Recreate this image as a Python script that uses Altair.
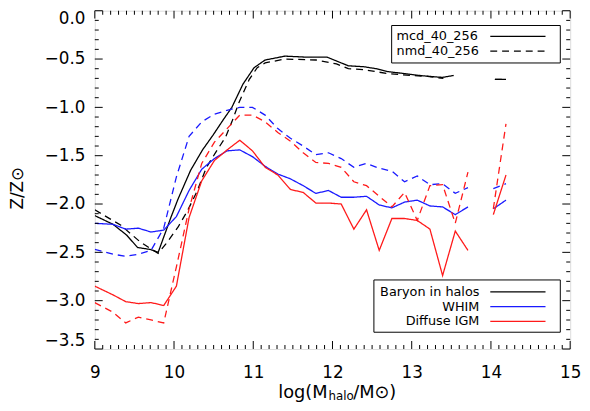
import altair as alt
import pandas as pd
import numpy as np

# ---------------- data ----------------
x_grid = [9.0, 9.23, 9.39, 9.55, 9.71, 9.87, 10.03, 10.19, 10.35, 10.51, 10.67,
          10.83, 10.99, 11.15, 11.31, 11.47, 11.63, 11.79, 11.95, 12.11, 12.27,
          12.43, 12.59, 12.75, 12.91, 13.07, 13.23, 13.39, 13.55, 13.71, 13.87,
          14.03, 14.19]

igm_mcd = [-2.85, -2.94, -3.01, -3.03, -3.02, -3.05, -2.85, -2.14, -1.76, -1.55,
           -1.44, -1.34, -1.45, -1.62, -1.70, -1.85, -1.88, -1.99, -1.99, -2.00,
           -2.26, -2.06, -2.48, -2.15, -2.15, -2.17, -2.26, -2.74, -2.28, -2.48,
           None, -2.11, -1.70]
igm_nmd = [-3.02, -3.12, -3.23, -3.17, -3.20, -3.23, -2.65, -2.05, -1.58, -1.36,
           -1.22, -1.08, -1.08, -1.15, -1.26, -1.35, -1.47, -1.57, -1.58, -1.62,
           -1.77, -1.81, -1.92, -2.03, -1.88, -2.17, -1.81, -1.80, -2.20, -1.67,
           None, -2.05, -1.17]
whim_mcd = [-2.20, -2.21, -2.26, -2.25, -2.29, -2.27, -2.13, -1.86, -1.64, -1.53,
            -1.45, -1.44, -1.51, -1.61, -1.69, -1.74, -1.81, -1.89, -1.86, -1.93,
            -1.93, -1.92, -2.01, -2.04, -1.98, -1.96, -2.02, -2.03, -2.11, -2.03,
            None, -2.05, -1.96]
whim_nmd = [-2.47, -2.52, -2.54, -2.52, -2.48, -2.25, -1.72, -1.30, -1.15, -1.07,
            -1.03, -1.00, -1.00, -1.08, -1.22, -1.32, -1.40, -1.49, -1.47, -1.53,
            -1.62, -1.58, -1.63, -1.66, -1.77, -1.71, -1.80, -1.79, -1.89, -1.83,
            None, -1.84, -1.79]

halo_mcd_x = [9.0, 9.23, 9.40, 9.54, 9.70, 9.80, 9.96, 10.05, 10.21, 10.36, 10.49,
              10.62, 10.73, 10.87, 11.01, 11.15, 11.40, 11.66, 11.93, 12.05, 12.20,
              12.40, 12.55, 12.70, 12.90, 13.10, 13.23, 13.39, 13.53, 13.80, 14.05,
              14.19]
halo_mcd = [-2.12, -2.21, -2.32, -2.45, -2.47, -2.50, -2.14, -1.95, -1.65, -1.44,
            -1.29, -1.13, -1.00, -0.76, -0.59, -0.51, -0.47, -0.48, -0.48, -0.52,
            -0.57, -0.58, -0.60, -0.63, -0.65, -0.67, -0.68, -0.69, -0.67, None,
            -0.71, -0.71]
halo_nmd_x = [9.0, 9.33, 9.57, 9.74, 9.80, 9.90, 10.05, 10.17, 10.29, 10.41, 10.53,
              10.65, 10.73, 10.82, 10.95, 11.05, 11.15, 11.40, 11.79, 12.05, 12.20,
              12.40, 12.69, 13.00, 13.20, 13.40, 13.80, 14.05, 14.19]
halo_nmd = [-2.06, -2.22, -2.39, -2.48, -2.51, -2.41, -2.24, -2.07, -1.87, -1.62,
            -1.46, -1.31, -1.15, -0.95, -0.71, -0.59, -0.54, -0.50, -0.51, -0.55,
            -0.60, -0.61, -0.65, -0.67, -0.68, -0.70, None, -0.71, -0.71]

x_ticks = [9, 10, 11, 12, 13, 14, 15]
y_ticks = [0.0, -0.5, -1.0, -1.5, -2.0, -2.5, -3.0, -3.5]

run_labels = ["mcd_40_256", "nmd_40_256"]
comp_labels = ["Baryon in halos", "WHIM", "Diffuse IGM"]
comp_colors = ["#000000", "#1a1aff", "#ff1a1a"]

# ---------------- build table ----------------
rows = []
def add(name, xs, ys, comp, dash):
    seg = 0
    for i, (xv, yv) in enumerate(zip(xs, ys)):
        if yv is None:
            seg += 1
            continue
        rows.append(dict(key=f"{name}_{seg}", comp=comp, dash=dash, x=xv, y=yv, i=i))

add("halo_mcd", halo_mcd_x, halo_mcd, "Baryon in halos", "solid")
add("halo_nmd", halo_nmd_x, halo_nmd, "Baryon in halos", "dashed")
add("whim_mcd", x_grid, whim_mcd, "WHIM", "solid")
add("whim_nmd", x_grid, whim_nmd, "WHIM", "dashed")
add("igm_mcd", x_grid, igm_mcd, "Diffuse IGM", "solid")
add("igm_nmd", x_grid, igm_nmd, "Diffuse IGM", "dashed")
df = pd.DataFrame(rows)

W, H = 482, 343
FONT = "DejaVu Sans"
DASH = [7, 5]

xs = alt.Scale(domain=[9, 15], nice=False, zero=False)
ys = alt.Scale(domain=[-3.5, 0], nice=False, zero=False)

lines = alt.Chart(df).mark_line(strokeWidth=1.3, clip=True).encode(
    x=alt.X("x:Q", scale=xs,
            axis=alt.Axis(values=x_ticks, format="d", ticks=False, domain=False,
                          grid=False, labelFont=FONT, labelFontSize=17,
                          labelColor="black", labelPadding=16, title=None,
                          labelFlush=False, labelOverlap=False)),
    y=alt.Y("y:Q", scale=ys,
            axis=alt.Axis(values=y_ticks, format=".1f", ticks=False, domain=False,
                          grid=False, labelFont=FONT, labelFontSize=17,
                          labelColor="black", labelPadding=10, title=None,
                          labelFlush=True, labelOverlap=False)),
    color=alt.Color("comp:N", scale=alt.Scale(domain=comp_labels, range=comp_colors),
                    legend=None),
    strokeDash=alt.StrokeDash("dash:N",
                              scale=alt.Scale(domain=["solid", "dashed"],
                                              range=[[1, 0], DASH]),
                              legend=None),
    detail="key:N",
    order="i:Q",
)

# inward ticks on all four sides
xmaj = pd.DataFrame({"v": x_ticks})
xmin = pd.DataFrame({"v": [round(9 + 0.1 * k, 2) for k in range(61) if k % 10]})
ymaj = pd.DataFrame({"v": y_ticks})
ymin = pd.DataFrame({"v": [round(-0.1 * k, 2) for k in range(36) if k % 5]})

def xt(d, L):
    b = alt.Chart(d).mark_tick(color="black", orient="vertical", size=L,
                               thickness=1, opacity=1).encode(
        x=alt.X("v:Q", scale=xs), y=alt.value(H - L / 2))
    t = alt.Chart(d).mark_tick(color="black", orient="vertical", size=L,
                               thickness=1, opacity=1).encode(
        x=alt.X("v:Q", scale=xs), y=alt.value(L / 2))
    return [b, t]

def yt(d, L):
    l = alt.Chart(d).mark_tick(color="black", orient="horizontal", size=L,
                               thickness=1, opacity=1).encode(
        y=alt.Y("v:Q", scale=ys), x=alt.value(L / 2))
    r = alt.Chart(d).mark_tick(color="black", orient="horizontal", size=L,
                               thickness=1, opacity=1).encode(
        y=alt.Y("v:Q", scale=ys), x=alt.value(W - L / 2))
    return [l, r]

ticks = xt(xmaj, 8) + xt(xmin, 4) + yt(ymaj, 8) + yt(ymin, 4)

one = pd.DataFrame({"a": [0]})

# axis titles
ytitle = alt.Chart(one).mark_text(text="Z/Z\u2299", font=FONT, fontSize=17, angle=270,
                                  color="black").encode(
    x=alt.value(-78), y=alt.value(180))
xt1 = alt.Chart(one).mark_text(text="log(M", font=FONT, fontSize=18, align="right",
                               baseline="alphabetic", color="black").encode(
    x=alt.value(236), y=alt.value(393))
xt2 = alt.Chart(one).mark_text(text="halo", font=FONT, fontSize=12, align="left",
                               baseline="alphabetic", color="black").encode(
    x=alt.value(237), y=alt.value(395))
xt3 = alt.Chart(one).mark_text(text="/M\u2299)", font=FONT, fontSize=18, align="left",
                               baseline="alphabetic", color="black").encode(
    x=alt.value(262), y=alt.value(393))

# legend 1 (runs)
box1 = alt.Chart(one).mark_rect(fill="white", stroke="black", strokeWidth=1).encode(
    x=alt.value(301), x2=alt.value(472), y=alt.value(15), y2=alt.value(53))
leg1 = pd.DataFrame({"label": run_labels, "dash": ["solid", "dashed"],
                     "yy": [26, 41]})
leg1_text = alt.Chart(leg1).mark_text(font=FONT, fontSize=13, align="left",
                                      baseline="middle", color="black").encode(
    text="label:N", x=alt.value(306), y=alt.Y("yy:Q", scale=None))
leg1_line = alt.Chart(leg1).mark_rule(color="black", strokeWidth=1.3).encode(
    x=alt.value(401), x2=alt.value(457), y=alt.Y("yy:Q", scale=None),
    strokeDash=alt.StrokeDash("dash:N",
                              scale=alt.Scale(domain=["solid", "dashed"],
                                              range=[[1, 0], DASH]),
                              legend=None))

# legend 2 (components)
box2 = alt.Chart(one).mark_rect(fill="white", stroke="black", strokeWidth=1).encode(
    x=alt.value(283), x2=alt.value(472), y=alt.value(273), y2=alt.value(326))
leg2 = pd.DataFrame({"label": comp_labels, "yy": [285, 300, 315]})
leg2_text = alt.Chart(leg2).mark_text(font=FONT, fontSize=13, align="right",
                                      baseline="middle", color="black").encode(
    text="label:N", x=alt.value(390), y=alt.Y("yy:Q", scale=None))
leg2_line = alt.Chart(leg2).mark_rule(strokeWidth=1.3).encode(
    x=alt.value(401), x2=alt.value(457), y=alt.Y("yy:Q", scale=None),
    color=alt.Color("label:N", scale=alt.Scale(domain=comp_labels, range=comp_colors),
                    legend=None))

chart = alt.layer(
    lines, *ticks, ytitle, xt1, xt2, xt3,
    box1, leg1_text, leg1_line, box2, leg2_text, leg2_line
).resolve_scale(
    strokeDash="independent", color="independent"
).properties(
    width=W, height=H,
    autosize=alt.AutoSizeParams(type="none"),
    padding={"left": 88, "top": 0, "right": 12, "bottom": 51},
).configure_view(
    stroke="black", strokeWidth=1
).configure(background="white")

chart.save("out.html", embed_options={"renderer": "svg", "actions": False})
